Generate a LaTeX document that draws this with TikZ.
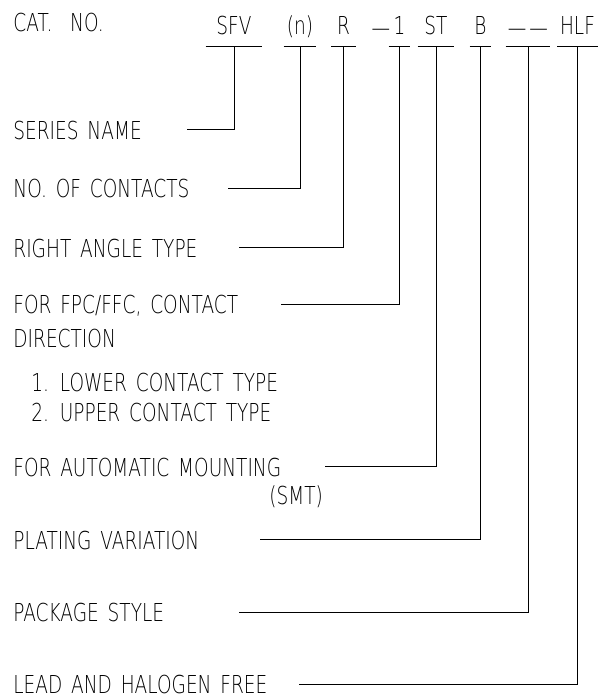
\documentclass[tikz,border=0pt]{standalone}
\usepackage{fontspec}
\newfontfamily\cadfont{DejaVu Sans ExtraLight}[FakeStretch=0.75,WordSpace=1.5]

\begin{document}
\begin{tikzpicture}
  [x=1pt,y=-1pt,line width=0.8pt,
   every node/.style={font={\cadfont\fontsize{24.7pt}{30pt}\selectfont},inner sep=0pt,text height=18pt,text depth=0pt},
   lbl/.style={anchor=west},
   code/.style={anchor=south,inner ysep=11pt}]
  \useasboundingbox (0,0) rectangle (613,699);
  % part number
  \node[lbl] (cat) at (13,22) {CAT.\ \ NO.};
  \node[code,minimum width=56pt] (sfv) at (234,46) {SFV};
  \node[code,minimum width=32pt] (num) at (300,46) {(n)};
  \node[code,minimum width=24pt] (ra) at (343.5,46) {R};
  \node[code] (dash) at (381,46) {\raisebox{-2pt}{—}};
  \node[code,minimum width=21pt] (one) at (399.5,46) {1};
  \node[code,minimum width=36pt] (st) at (436,46) {ST};
  \node[code,minimum width=21pt] (b) at (480.5,46) {B};
  \node[code,minimum width=44pt] (pkg) at (528,46) {\raisebox{-2pt}{—\kern3pt—}};
  \node[code,minimum width=40pt] (hlf) at (577.5,46) {HLF};
  \foreach \c in {sfv,num,ra,one,st,b,pkg,hlf}
    \draw (\c.south west) -- (\c.south east);
  % descriptions
  \node[lbl] (sname) at (13,130) {SERIES NAME};
  \node[lbl] (ncont) at (13,188) {NO. OF CONTACTS};
  \node[lbl] (rangle) at (13,248) {RIGHT ANGLE TYPE};
  \node[lbl] (fpc) at (13,304) {FOR FPC/FFC, CONTACT};
  \node[lbl] (direc) at (13,338) {DIRECTION};
  \node[lbl] (lower) at (31,382) {1. LOWER CONTACT TYPE};
  \node[lbl] (upper) at (31,412) {2. UPPER CONTACT TYPE};
  \node[lbl] (auto) at (13,467) {FOR AUTOMATIC MOUNTING};
  \node[lbl] (smt) at (269,495) {(SMT)};
  \node[lbl] (plat) at (13,540) {PLATING VARIATION};
  \node[lbl] (pack) at (13,612) {PACKAGE STYLE};
  \node[lbl] (lead) at (13,684) {LEAD AND HALOGEN FREE};
  % leader ends
  \coordinate (sname-e) at (187,129.5);
  \coordinate (ncont-e) at (228,188);
  \coordinate (rangle-e) at (239,247);
  \coordinate (fpc-e) at (281,304);
  \coordinate (auto-e) at (325,466);
  \coordinate (plat-e) at (260,539);
  \coordinate (pack-e) at (239,612);
  \coordinate (lead-e) at (299,684);
  \foreach \from/\to in {sname-e/sfv,ncont-e/num,rangle-e/ra,fpc-e/one,auto-e/st,plat-e/b,pack-e/pkg,lead-e/hlf}
    \draw (\from) -| (\to.south);
\end{tikzpicture}
\end{document}
